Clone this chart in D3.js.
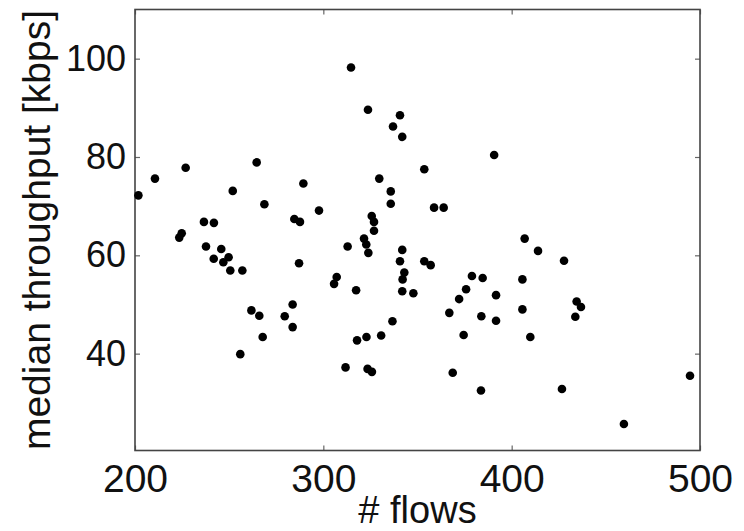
<!DOCTYPE html>
<html>
<head>
<meta charset="utf-8">
<script src="https://cdn.jsdelivr.net/npm/d3@7"></script>
<style>
  body { margin: 0; background: #fff; }
  text { font-family: "Liberation Sans", Arial, Helvetica, sans-serif; fill: #111; }
</style>
</head>
<body>
<div id="chart"></div>
<script>
// number of flows vs median throughput
var flows = [201.8, 210.6, 226.9, 236.6, 241.9, 251.9, 264.6, 268.7, 284.6, 287.6,
             289.4, 297.7, 314.7, 323.7, 340.7, 337.0, 341.9, 390.7, 329.7, 353.6,
             335.8, 335.8, 358.8, 363.9, 325.7, 326.9, 326.9, 224.8, 223.5, 237.7,
             245.8, 249.7, 241.8, 246.9, 250.6, 257.0, 287.1, 283.7, 261.8, 266.0,
             279.5, 283.7, 267.8, 255.9, 312.9, 321.6, 322.8, 323.9, 341.9, 340.7,
             343.0, 342.1, 341.9, 347.8, 353.6, 357.0, 307.1, 305.7, 317.4, 336.7,
             330.7, 322.9, 317.9, 311.8, 323.5, 325.8, 378.9, 384.6, 375.8, 372.1,
             366.9, 383.9, 391.7, 391.7, 374.5, 368.7, 383.7, 406.9, 414.0, 427.8,
             405.7, 405.7, 409.9, 434.5, 436.8, 433.8, 426.7, 494.7, 459.6];
var throughput = [72.2, 75.6, 77.8, 66.8, 66.6, 73.1, 78.9, 70.4, 67.4, 66.8,
                  74.6, 69.1, 98.2, 89.6, 88.5, 86.2, 84.1, 80.4, 75.6, 77.5,
                  73.0, 70.5, 69.7, 69.7, 68.0, 66.8, 65.0, 64.5, 63.6, 61.8,
                  61.3, 59.6, 59.3, 58.6, 56.9, 56.9, 58.4, 50.0, 48.8, 47.7,
                  47.6, 45.4, 43.4, 39.9, 61.8, 63.4, 62.2, 60.5, 61.1, 58.8,
                  56.5, 55.1, 52.7, 52.3, 58.8, 58.0, 55.6, 54.2, 52.9, 46.6,
                  43.7, 43.4, 42.7, 37.2, 36.9, 36.3, 55.8, 55.4, 53.1, 51.1,
                  48.3, 47.6, 51.9, 46.7, 43.8, 36.1, 32.5, 63.4, 60.9, 58.9,
                  55.1, 49.0, 43.4, 50.6, 49.5, 47.5, 32.8, 35.5, 25.7];
var xTicks = [200, 300, 400, 500];
var yTicks = [40, 60, 80, 100];

var width = 744, height = 531;
var margin = {top: 9.5, right: 44, bottom: 80.5, left: 135};

var svg = d3.select("#chart").append("svg")
    .attr("width", width)
    .attr("height", height);

var x = d3.scaleLinear().domain([200, 500]).range([margin.left, width - margin.right]);
var y = d3.scaleLinear().domain([20.3, 110]).range([height - margin.bottom, margin.top]);

var tickLen = 5;
var frameColor = "#444";

// ticks pointing inward on all four sides (box on)
var bottomAxis = d3.axisBottom(x).tickValues(xTicks).tickSize(-tickLen).tickPadding(14).tickFormat(d3.format("d"));
var topAxis = d3.axisTop(x).tickValues(xTicks).tickSize(-tickLen).tickFormat("");
var leftAxis = d3.axisLeft(y).tickValues(yTicks).tickSize(-tickLen).tickPadding(9).tickFormat(d3.format("d"));
var rightAxis = d3.axisRight(y).tickValues(yTicks).tickSize(-tickLen).tickFormat("");

var gb = svg.append("g").attr("transform", "translate(0," + (height - margin.bottom) + ")").call(bottomAxis);
var gt = svg.append("g").attr("transform", "translate(0," + margin.top + ")").call(topAxis);
var gl = svg.append("g").attr("transform", "translate(" + margin.left + ",0)").call(leftAxis);
var gr = svg.append("g").attr("transform", "translate(" + (width - margin.right) + ",0)").call(rightAxis);

[gb, gt, gl, gr].forEach(function (g) {
    g.select(".domain").remove();
    g.selectAll(".tick line").attr("stroke", "#666").attr("stroke-width", 1.2);
});
gb.selectAll(".tick text").style("font-size", "39px").attr("fill", "#111");
gl.selectAll(".tick text").style("font-size", "36px").attr("fill", "#111");

// frame
svg.append("rect")
    .attr("x", margin.left)
    .attr("y", margin.top)
    .attr("width", width - margin.left - margin.right)
    .attr("height", height - margin.top - margin.bottom)
    .attr("fill", "none")
    .attr("stroke", frameColor)
    .attr("stroke-width", 1.6);

// points
svg.append("g").selectAll("circle")
    .data(flows)
    .enter().append("circle")
    .attr("cx", function (d) { return x(d); })
    .attr("cy", function (d, i) { return y(throughput[i]); })
    .attr("r", 4.3)
    .attr("fill", "#000");

// axis titles
svg.append("text")
    .attr("x", (margin.left + width - margin.right) / 2)
    .attr("y", 523)
    .attr("text-anchor", "middle")
    .style("font-size", "38px")
    .text("# flows");

svg.append("text")
    .attr("transform", "translate(50," + (margin.top + (height - margin.top - margin.bottom) / 2) + ") rotate(-90)")
    .attr("text-anchor", "middle")
    .style("font-size", "39px")
    .text("median throughput [kbps]");
</script>
</body>
</html>
